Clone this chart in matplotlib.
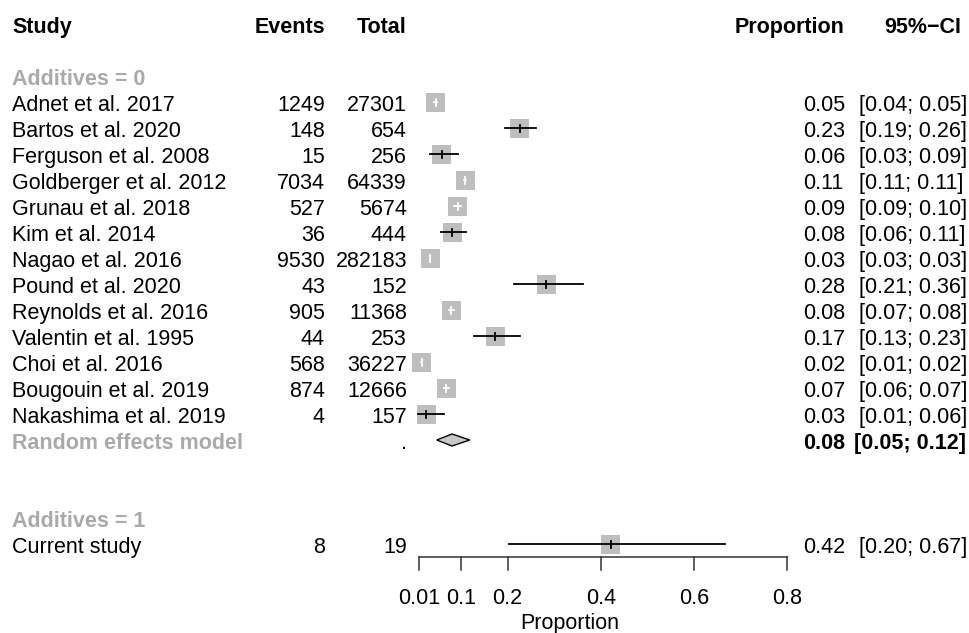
import matplotlib
matplotlib.use("Agg")
import matplotlib.pyplot as plt
import matplotlib.transforms as mtransforms

plt.rcParams["font.family"] = ["Liberation Sans", "DejaVu Sans"]

# subgroup 0 studies
studies = ["Adnet et al. 2017", "Bartos et al. 2020", "Ferguson et al. 2008",
           "Goldberger et al. 2012", "Grunau et al. 2018", "Kim et al. 2014",
           "Nagao et al. 2016", "Pound et al. 2020", "Reynolds et al. 2016",
           "Valentin et al. 1995", "Choi et al. 2016", "Bougouin et al. 2019",
           "Nakashima et al. 2019"]
events = [1249, 148, 15, 7034, 527, 36, 9530, 43, 905, 44, 568, 874, 4]
totals = [27301, 654, 256, 64339, 5674, 444, 282183, 152, 11368, 253, 36227, 12666, 157]
ci_lo = [0.0433, 0.194, 0.0332, 0.1069, 0.0855, 0.0574, 0.0331, 0.2131, 0.0747,
         0.129, 0.0144, 0.0646, 0.007]
ci_hi = [0.0482, 0.260, 0.0947, 0.1118, 0.1007, 0.1105, 0.0344, 0.3622, 0.0847,
         0.2265, 0.0170, 0.0734, 0.0639]

# random effects summary
re_est, re_lo, re_hi = 0.081, 0.048, 0.119

# subgroup 1
cur_name = "Current study"
cur_events, cur_total = 8, 19
cur_lo, cur_hi = 0.2025, 0.666

xticks = [0.01, 0.1, 0.2, 0.4, 0.6, 0.8]
xtick_labels = ["0.01", "0.1", "0.2", "0.4", "0.6", "0.8"]

W, H = 970, 633
FS = 15.5
GREY_TXT = "#a9a9a9"
BOX = "#bebebe"

fig = plt.figure(figsize=(W / 100, H / 100), dpi=100)
ax = fig.add_axes([0, 0, 1, 1])
ax.axis("off")
# proportion -> pixel: px = 414.3 + 466.2 * p ; rows: py = 24 + 26 * r
ax.set_xlim(-414.3 / 466.2, (W - 414.3) / 466.2)
ax.set_ylim((H - 24) / 26, -24 / 26)

trans = mtransforms.blended_transform_factory(ax.transAxes, ax.transData)
BASE = 0.34  # baseline offset below row centre


def txt(px, row, s, ha="left", **kw):
    kw.setdefault("fontsize", FS)
    ax.text(px / W, row + BASE, s, ha=ha, va="baseline", transform=trans, **kw)


half_w = 9.5 / 466.2   # half box width in proportion units
half_h = 9.5 / 26      # half box height in rows
tick_h = 3.5 / 26


def study_row(row, name, ev, tot, lo, hi):
    p = ev / tot
    txt(12, row, name)
    txt(325, row, str(ev), ha="right")
    txt(407, row, str(tot), ha="right")
    txt(803, row, f"{p:.2f}")
    txt(859, row, f"[{lo:.2f}; {hi:.2f}]")
    inside = lo >= p - half_w and hi <= p + half_w
    col = "white" if inside else "black"
    ax.fill([p - half_w, p + half_w, p + half_w, p - half_w],
            [row - half_h, row - half_h, row + half_h, row + half_h],
            color=BOX, lw=0, zorder=2)
    ax.plot([lo, hi], [row, row], color=col, lw=1.3, zorder=3)
    ax.plot([p, p], [row - tick_h, row + tick_h], color=col, lw=1.3, zorder=3)


# header
txt(12, 0, "Study", fontweight="bold")
txt(325, 0, "Events", ha="right", fontweight="bold")
txt(407, 0, "Total", ha="right", fontweight="bold")
txt(845, 0, "Proportion", ha="right", fontweight="bold")
txt(961, 0, "95%\u2212CI", ha="right", fontweight="bold")

txt(12, 2, "Additives = 0", color=GREY_TXT, fontweight="bold")
for i in range(len(studies)):
    study_row(3 + i, studies[i], events[i], totals[i], ci_lo[i], ci_hi[i])

# random effects model
r = 3 + len(studies)
txt(12, r, "Random effects model", color=GREY_TXT, fontweight="bold")
txt(407, r, ".", ha="right")
txt(845, r, f"{re_est:.2f}", ha="right", fontweight="bold")
txt(966, r, f"[{re_lo:.2f}; {re_hi:.2f}]", ha="right", fontweight="bold")
dh = 6 / 26
ax.fill([re_lo, re_est, re_hi, re_est], [r, r - dh, r, r + dh],
        facecolor="#c8c8c8", edgecolor="black", lw=1.0, zorder=3)

txt(12, r + 3, "Additives = 1", color=GREY_TXT, fontweight="bold")
study_row(r + 4, cur_name, cur_events, cur_total, cur_lo, cur_hi)

# x axis drawn by hand
ay = 20.5
ax.plot([xticks[0], xticks[-1]], [ay, ay], color="#333333", lw=1.1)
for t, lab in zip(xticks, xtick_labels):
    ax.plot([t, t], [ay, ay + 0.5], color="#333333", lw=1.1)
    ax.text(t, 22.31, lab, ha="center", va="baseline", fontsize=FS)
ax.text(570 / W, 23.25, "Proportion", ha="center", va="baseline",
        fontsize=FS, transform=trans)

fig.savefig("out.png", dpi=100, facecolor="white")
